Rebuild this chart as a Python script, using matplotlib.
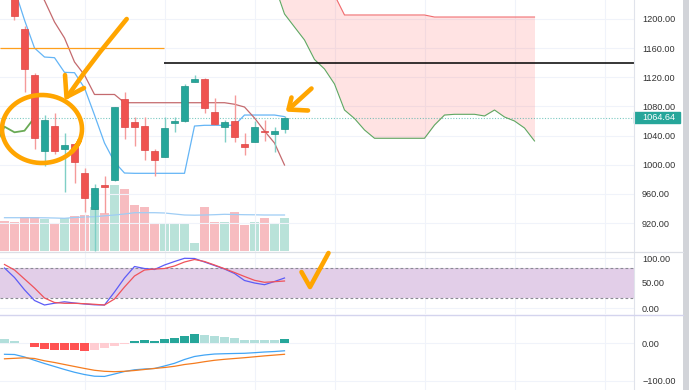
import numpy as np
import matplotlib.pyplot as plt
import matplotlib.transforms as mtransforms
from matplotlib.patches import Rectangle
from matplotlib.ticker import FuncFormatter

plt.rcParams['font.family'] = ['Liberation Sans', 'DejaVu Sans']

# ---- candles (bar index -1 .. 27) ----
bars = list(range(-1, 28))
opens = [1280, 1232, 1185.9, 1123.6, 1019.3, 1053.1, 1021.2, 1028.4, 989.1, 939.2,
         971.5, 979, 1089.8, 1058.2, 1053.1, 1019.3, 1011, 1057.7, 1060, 1114,
         1117.7, 1071.9, 1051.4, 1059.6, 1028.4, 1031.7, 1046.3, 1042.2, 1048.6]
highs = [1292, 1240, 1190.4, 1126.3, 1068.2, 1071.4, 1044, 1029.5, 995.1, 973.1,
         985, 1079.5, 1099.4, 1065.1, 1065, 1021, 1065, 1065, 1110.8, 1123.2,
         1118.6, 1092, 1061.4, 1095.7, 1043, 1060, 1061.4, 1052.2, 1066.9]
lows = [1236, 1198.6, 1100.2, 1021.6, 998.7, 1014.7, 962.9, 975.3, 935.5, 881.6,
        933.7, 977.5, 1035.3, 1025.7, 1006.5, 984.5, 1010, 1045.3, 1058, 1113,
        1070.6, 1055, 1031.7, 1031.7, 1013.3, 1031, 1033, 1017.9, 1043]
closes = [1240, 1204, 1131.4, 1036.3, 1061.4, 1019.3, 1027.1, 1004.2, 954.3, 968.5,
          969.8, 1078.8, 1052.2, 1052.2, 1020.2, 1006.5, 1050, 1059.6, 1108, 1117.3,
          1077.4, 1055.5, 1058.6, 1038.5, 1023.9, 1052.2, 1044.5, 1046.7, 1064.64]
volume = [30, 28.7, 33.7, 33.7, 32, 28.3, 32.7, 35, 36, 44.3, 38.3, 66, 62, 46, 44,
          27.7, 27.7, 27.7, 27, 7.7, 44.3, 28.7, 28.7, 39, 26, 29.3, 32.7, 26.7, 33.3]
volume_ma = [33.3, 33.3, 33.3, 33.3, 33.2, 33.0, 32.7, 33.5, 34.0, 34.3, 35.2, 36.0,
             37.0, 38.3, 38.3, 38.3, 38.0, 37.0, 36.0, 35.8, 36.0, 36.3, 36.7, 36.5,
             36.3, 36.2, 36.0, 36.0, 36.0]

# ---- ichimoku ----
tenkan = [1250, 1241, 1198.6, 1160.2, 1147.8, 1146.9, 1126.8, 1126.3, 1105.3, 1068.2,
          1029.8, 1003.7, 988.6, 988.2, 988.2, 988.2, 988.2, 988.2, 988.2, 1053.1,
          1054.1, 1054.1, 1054.1, 1054.1, 1068.2, 1068.2, 1068.2, 1068.2, 1066.0]
kijun = [1300, 1290, 1270, 1248, 1225.4, 1195.9, 1173.9, 1141, 1123.1, 1096.4,
         1096.4, 1096.4, 1085.1, 1085.1, 1085.1, 1085.1, 1085.1, 1085.1, 1085.1, 1085.1,
         1085.1, 1085.1, 1085.1, 1083.0, 1079.2, 1064.1, 1046.3, 1029.8, 999.6]
cloud_bars = list(range(26, 53))
senkou_a = [1246.6, 1206.9, 1189, 1171.2, 1144.4, 1131.4, 1110.8, 1075.1, 1063.4,
            1047.7, 1036.3, 1036.3, 1036.3, 1036.3, 1036.3, 1036.3, 1054.5, 1068.2,
            1069.2, 1069.2, 1069.2, 1066.9, 1075.1, 1065.5, 1060, 1050.4, 1032.6]
senkou_b = [1262, 1258, 1254, 1250, 1245, 1240, 1232.9] + [1205.5] * 9 + [1202.7] * 11
lag_shift = 25

orange_level, orange_end = 1160, 14.95
black_level = 1139.6

# ---- stoch rsi ----
stoch_k = [80, 61, 36.4, 15, 6, 9.6, 12.4, 10, 8, 6.4, 6, 32, 60, 83, 79, 77, 86, 93,
           99.4, 99, 92, 85, 78, 69, 55, 50, 46.6, 53, 60]
stoch_d = [87, 76, 58, 40, 20, 11, 9.4, 9.4, 8.6, 7.4, 6, 18, 42, 64, 76, 78, 79, 84,
           92, 97, 93, 86, 78.6, 71, 63, 55.4, 51.4, 52.6, 54]

# ---- macd ----
macd_hist = [9.7, 5, 1, -10.5, -14.8, -17.5, -17.5, -17.5, -21, -17.5, -13.6, -7,
             -2.6, 4.4, 7, 6, 9.7, 13, 17.5, 22.8, 20, 17.5, 15, 12.3, 9, 9, 9, 9, 9.3]
hist_shade = ['lu', 'lu', 'lu', 'dd', 'dd', 'dd', 'dd', 'dd', 'dd', 'ld', 'ld', 'ld',
              'ld', 'du', 'du', 'du', 'du', 'du', 'du', 'du', 'lu', 'lu', 'lu', 'lu',
              'lu', 'lu', 'lu', 'lu', 'du']
macd_line = [-29.7, -30.3, -36.8, -45.5, -54, -61.8, -69.7, -77, -83, -87.4, -88,
             -81.6, -75, -70.5, -68.4, -67, -60.5, -53.4, -43.4, -35.5, -31.6, -29,
             -28.2, -27.6, -27.1, -25.5, -23.7, -22.4, -20.5]
signal_line = [-41.6, -40.3, -39, -40.8, -46.8, -51.3, -56.6, -61.8, -67, -71.8,
               -74.5, -75.5, -74.5, -72.4, -69.7, -67, -64.5, -61.3, -56.6, -53.4,
               -49.2, -45.5, -42.9, -40.8, -38.7, -36.3, -33.9, -31.8, -29.7]

date_grid = [7, 15, 24, 32, 41, 50, 59]

UP, DN = '#26a69a', '#ef5350'
GRID = '#f0f3fa'

W, H = 689, 390
fig = plt.figure(figsize=(W / 100, H / 100), dpi=100)
fig.patch.set_facecolor('white')
XL = (-1.45, 61.95)


def pane(top, bottom):
    return fig.add_axes([0, 1 - bottom / H, 634 / W, (bottom - top) / H])


ax = pane(0, 252)
ax_st = pane(252, 314)
ax_md = pane(315, 390)

x = np.array(bars)
o, h, l, c = map(np.array, (opens, highs, lows, closes))
up = c >= o

# volume behind the candles
ax_v = ax.twinx()
ax_v.set_zorder(ax.get_zorder() - 1)
ax.patch.set_visible(False)
ax_v.bar(x, volume, 0.9, color=np.where(up, '#b9e2d9', '#f7bcc0'), zorder=1)
ax_v.plot(x, volume_ma, color='#9fcdf5', lw=0.9)
ax_v.set_ylim(-1, 251)
ax_v.set_xlim(*XL)
ax_v.axis('off')

# cloud
xc = np.array(cloud_bars)
sa, sb = np.array(senkou_a), np.array(senkou_b)
ax.fill_between(xc, sa, sb, where=sb >= sa, color='#ff5252', alpha=0.16, lw=0, zorder=1)
ax.plot(xc, sa, color='#5ea862', lw=0.8, zorder=2)
ax.plot(xc, sb, color='#f06a6d', lw=0.8, zorder=2)

ax.plot(x, tenkan, color='#64b5f6', lw=0.9, zorder=2)
ax.plot(x, kijun, color='#c46a6e', lw=0.9, zorder=2)
ax.plot(x[-5:] - lag_shift, c[-5:], color='#6aaa55', lw=1.3, zorder=2)

ax.axhline(c[-1], color=UP, ls=(0, (1, 1.5)), lw=0.8, alpha=0.6, zorder=1)
ax.hlines(orange_level, XL[0], orange_end, color='#ff9f1c', lw=0.9, zorder=2)
ax.hlines(black_level, orange_end, XL[1], color='black', lw=1.1, zorder=2)

# candles
ax.vlines(x, l, h, colors=np.where(up, '#7fcfc6', '#f59a9a'), lw=1, zorder=3)
body_lo = np.minimum(o, c)
body_h = np.maximum(np.abs(c - o), 2.0)
ax.bar(x, body_h, 0.72, bottom=body_lo, color=np.where(up, UP, DN),
       edgecolor=np.where(up, '#1f9186', '#dc4444'), lw=0.5, zorder=4)

ax.set_xlim(*XL)
ax.set_ylim(1200 - 233 / 0.7286, 1200 + 19 / 0.7286)
ax.set_yticks(np.arange(920, 1201, 40))

# stoch rsi
ax_st.axhspan(20, 80, color='#e2cee8', lw=0, zorder=0.8)
for lvl in (20, 80):
    ax_st.axhline(lvl, color='#8a8a94', ls=(0, (2.5, 2)), lw=0.8, zorder=1)
ax_st.plot(x, stoch_k, color='#5c5cf7', lw=0.9, zorder=3)
ax_st.plot(x, stoch_d, color='#f0525a', lw=0.9, zorder=3)
ax_st.set_xlim(*XL)
ax_st.set_ylim(-12, 112)
ax_st.set_yticks([0, 50, 100])

# macd
shade = {'lu': '#b2dfdb', 'du': UP, 'dd': '#ff5252', 'ld': '#ffcdd2'}
ax_md.bar(x, macd_hist, 0.88, color=[shade[s] for s in hist_shade], zorder=2)
ax_md.plot(x, macd_line, color='#42a5f5', lw=0.9, zorder=3)
ax_md.plot(x, signal_line, color='#f57c1f', lw=0.9, zorder=3)
ax_md.set_xlim(*XL)
ax_md.set_ylim(-123.7, 73.7)
ax_md.set_yticks([0, -100])

fmt = FuncFormatter(lambda v, p: f"{v:.2f}".replace('-', '\u2212'))
for a in (ax, ax_st, ax_md):
    a.set_axisbelow(True)
    a.yaxis.tick_right()
    a.yaxis.set_major_formatter(fmt)
    a.tick_params(axis='y', length=0, pad=5.8, labelsize=6.6, labelcolor='#333333')
    a.tick_params(axis='x', bottom=False, labelbottom=False)
    a.grid(axis='y', color=GRID, lw=0.8)
    for d in date_grid:
        a.axvline(d, color=GRID, lw=0.8, zorder=0.3)
    for s in a.spines.values():
        s.set_visible(False)

# last price tag
trans = mtransforms.blended_transform_factory(ax.transAxes, ax.transData)
ax.add_patch(Rectangle((1.0, c[-1] - 7.7), 46 / 634, 15.4, transform=trans,
                       color=UP, clip_on=False, zorder=10))
ax.text(1 + 8 / 634, c[-1], f"{c[-1]:.2f}", transform=trans, color='white',
        fontsize=6.6, va='center', ha='left', zorder=11, clip_on=False)

# overlay: pane separators, scale border and hand-drawn marks
ov = fig.add_axes([0, 0, 1, 1])
ov.set_xlim(0, W)
ov.set_ylim(H, 0)
ov.axis('off')
ov.plot([634, 634], [0, H], color='#e0e3eb', lw=0.8)
ov.plot([0, 683], [252, 252], color='#dcdfe6', lw=0.9)
ov.plot([0, 683], [314.5, 314.5], color='#d4d4ee', lw=1.0)
ov.add_patch(Rectangle((683, 0), 6, H, color='#d2d4d9', lw=0))

pen = dict(color='#ffa500', lw=3.3, solid_capstyle='round', solid_joinstyle='round')
t = np.linspace(-0.75, 2 * np.pi - 0.35, 80)
ov.plot(42 + 40 * np.cos(t), 129 - 34 * np.sin(t), **pen)
ov.plot([126.7, 100, 84, 67], [19, 52, 73, 97], **pen)
ov.plot([65, 66.5, 84], [75, 97, 88], **pen)
ov.plot([311.5, 289], [88.5, 109], **pen)
ov.plot([291.5, 288.5, 308], [97.5, 109.5, 110.5], **pen)
ov.plot([301.5, 310, 328.5], [272, 287, 253], **pen)

fig.savefig('out.png', dpi=100)
